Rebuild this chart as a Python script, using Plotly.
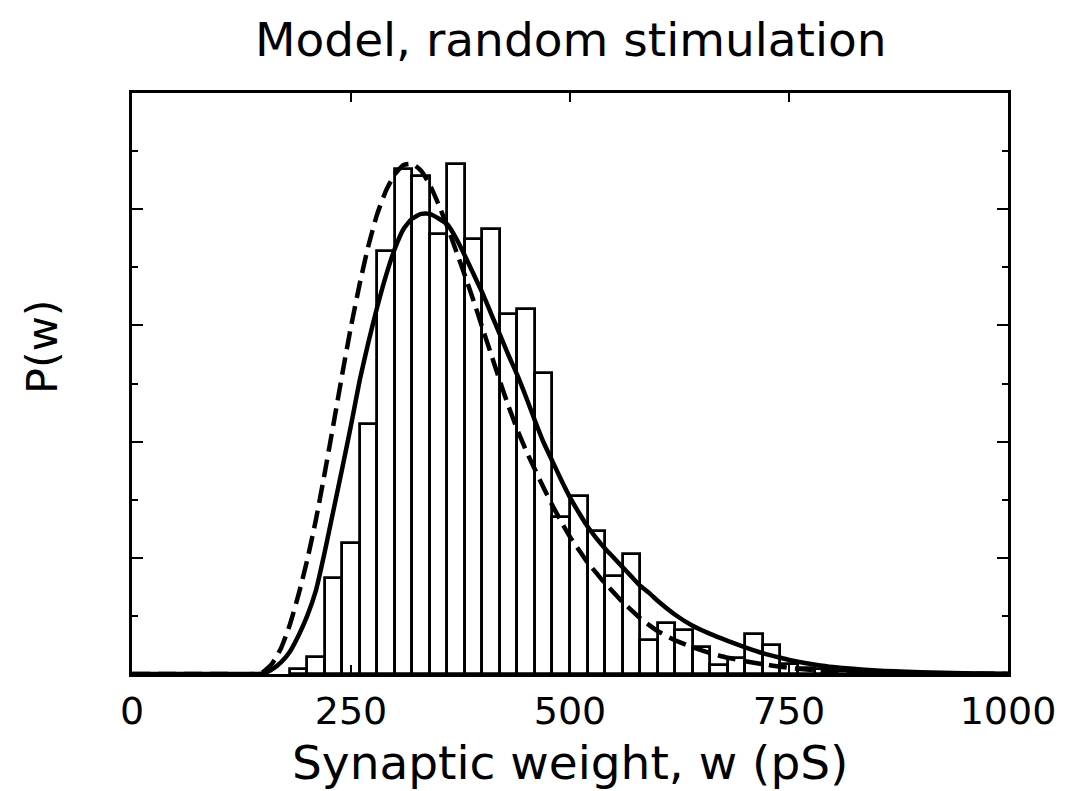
import plotly.graph_objects as go

# Histogram (20 pS bins), heights in units of the major y-tick spacing
bin_left = [180, 200, 220, 240, 260, 280, 300, 320, 340, 360, 380, 400, 420, 440,
            460, 480, 500, 520, 540, 560, 580, 600, 620, 640, 660, 680, 700, 720,
            740, 760, 780, 800, 820, 840, 860]
bar_height = [0.04, 0.15, 0.83, 1.13, 2.15, 3.64, 4.35, 4.29, 3.79, 4.39, 3.74, 3.83,
              3.10, 3.14, 2.59, 1.35, 1.53, 1.23, 0.84, 1.03, 0.29, 0.44, 0.38, 0.23,
              0.08, 0.14, 0.34, 0.25, 0.09, 0.05, 0.04, 0.03, 0.02, 0.02, 0.01]
bin_width = 20

# Dashed fit curve
dash_x = [0, 100, 140, 150, 160, 170, 180, 190, 200, 210, 220, 230, 240, 250, 260, 270,
          280, 290, 300, 310, 320, 330, 340, 350, 360, 370, 380, 390, 400, 410, 420, 430,
          440, 450, 460, 470, 480, 490, 500, 510, 520, 530, 540, 550, 560, 570, 580, 600,
          620, 640, 660, 680, 700, 720, 740, 760, 780, 800, 850, 900, 1000]
dash_y = [0, 0, 0.0, 0.02, 0.09, 0.22, 0.42, 0.68, 0.98, 1.33, 1.73, 2.15, 2.58, 2.99,
          3.36, 3.69, 3.96, 4.16, 4.30, 4.38, 4.39, 4.33, 4.21, 4.04, 3.85, 3.64, 3.43,
          3.21, 2.98, 2.75, 2.52, 2.30, 2.10, 1.92, 1.76, 1.60, 1.45, 1.31, 1.18, 1.07,
          0.96, 0.87, 0.78, 0.70, 0.62, 0.55, 0.48, 0.37, 0.29, 0.23, 0.18, 0.14, 0.11,
          0.085, 0.062, 0.045, 0.032, 0.022, 0.01, 0.004, 0.001]

# Solid fit curve
solid_x = [0, 100, 140, 150, 160, 170, 180, 190, 200, 210, 220, 230, 240, 250, 260, 270,
           280, 290, 300, 310, 320, 330, 340, 350, 360, 370, 380, 390, 400, 410, 420, 430,
           440, 450, 460, 470, 480, 490, 500, 510, 520, 530, 540, 550, 560, 570, 580, 590,
           600, 620, 640, 660, 680, 700, 720, 740, 760, 780, 800, 850, 900, 950, 1000]
solid_y = [0, 0, 0.0, 0.005, 0.04, 0.10, 0.19, 0.33, 0.50, 0.72, 1.05, 1.41, 1.77, 2.14,
           2.53, 2.86, 3.16, 3.43, 3.66, 3.83, 3.92, 3.96, 3.96, 3.92, 3.87, 3.75, 3.60,
           3.44, 3.28, 3.10, 2.92, 2.74, 2.57, 2.38, 2.18, 1.99, 1.83, 1.67, 1.52, 1.39,
           1.27, 1.17, 1.08, 1.00, 0.92, 0.84, 0.76, 0.70, 0.63, 0.51, 0.415, 0.345, 0.285,
           0.23, 0.18, 0.14, 0.105, 0.08, 0.06, 0.03, 0.015, 0.007, 0.003]

x_ticks = [0, 250, 500, 750, 1000]
x_tick_text = ["0", "250", "500", "750", "1000"]

title_text = "Model, random stimulation"
x_title = "Synaptic weight, w (pS)"
y_title = "P(w)"

FONT = "DejaVu Sans"

bin_center = [b + bin_width / 2 for b in bin_left]

fig = go.Figure()
fig.add_trace(go.Bar(
    x=bin_center, y=bar_height, width=bin_width,
    marker=dict(color="white", line=dict(color="black", width=2.8)),
    showlegend=False, hoverinfo="skip",
))
fig.add_trace(go.Scatter(
    x=dash_x, y=dash_y, mode="lines",
    line=dict(color="black", width=4.5, dash="18px,8px", shape="spline", smoothing=0.5),
    showlegend=False,
))
fig.add_trace(go.Scatter(
    x=solid_x, y=solid_y, mode="lines",
    line=dict(color="black", width=4.5, shape="spline", smoothing=0.5),
    showlegend=False,
))

M_L, M_R, M_T, M_B = 132, 70, 93, 117
W, H = 1078, 791
fig.update_layout(
    width=W, height=H,
    margin=dict(l=M_L, r=M_R, t=M_T, b=M_B),
    paper_bgcolor="white", plot_bgcolor="white",
    bargap=0,
    font=dict(family=FONT, color="black"),
)

plot_h = H - M_T - M_B
plot_w = W - M_L - M_R
def py_to_paper(py):
    return (H - M_B - py) / plot_h
def px_to_paper(px):
    return (px - M_L) / plot_w

fig.add_annotation(text=title_text, x=px_to_paper(571), y=py_to_paper(40), xref="paper", yref="paper",
                   showarrow=False, font=dict(size=47, family=FONT, color="black"),
                   xanchor="center", yanchor="middle")
fig.add_annotation(text=x_title, x=px_to_paper(570), y=py_to_paper(762), xref="paper", yref="paper",
                   showarrow=False, font=dict(size=47, family=FONT, color="black"),
                   xanchor="center", yanchor="middle")
fig.add_annotation(text=y_title, x=px_to_paper(42), y=py_to_paper(347), xref="paper", yref="paper",
                   showarrow=False, textangle=-90, font=dict(size=43, family=FONT, color="black"),
                   xanchor="center", yanchor="middle")

fig.update_xaxes(
    range=[0, 1000], tickvals=x_ticks, ticktext=x_tick_text,
    ticks="inside", ticklen=9, tickwidth=2, tickcolor="black",
    showline=True, linewidth=3, linecolor="black", mirror="ticks",
    showgrid=False, zeroline=False,
    tickfont=dict(size=38, family=FONT, color="black"),
    ticklabelstandoff=1,
)
fig.update_yaxes(
    range=[0, 5], dtick=1, tick0=0, showticklabels=False,
    ticks="inside", ticklen=11, tickwidth=2, tickcolor="black",
    showline=True, linewidth=3, linecolor="black", mirror="ticks",
    showgrid=False, zeroline=False,
    minor=dict(ticks="inside", ticklen=6, tickwidth=2, tickcolor="black", dtick=0.5, showgrid=False),
)

fig.write_html("out.html")
